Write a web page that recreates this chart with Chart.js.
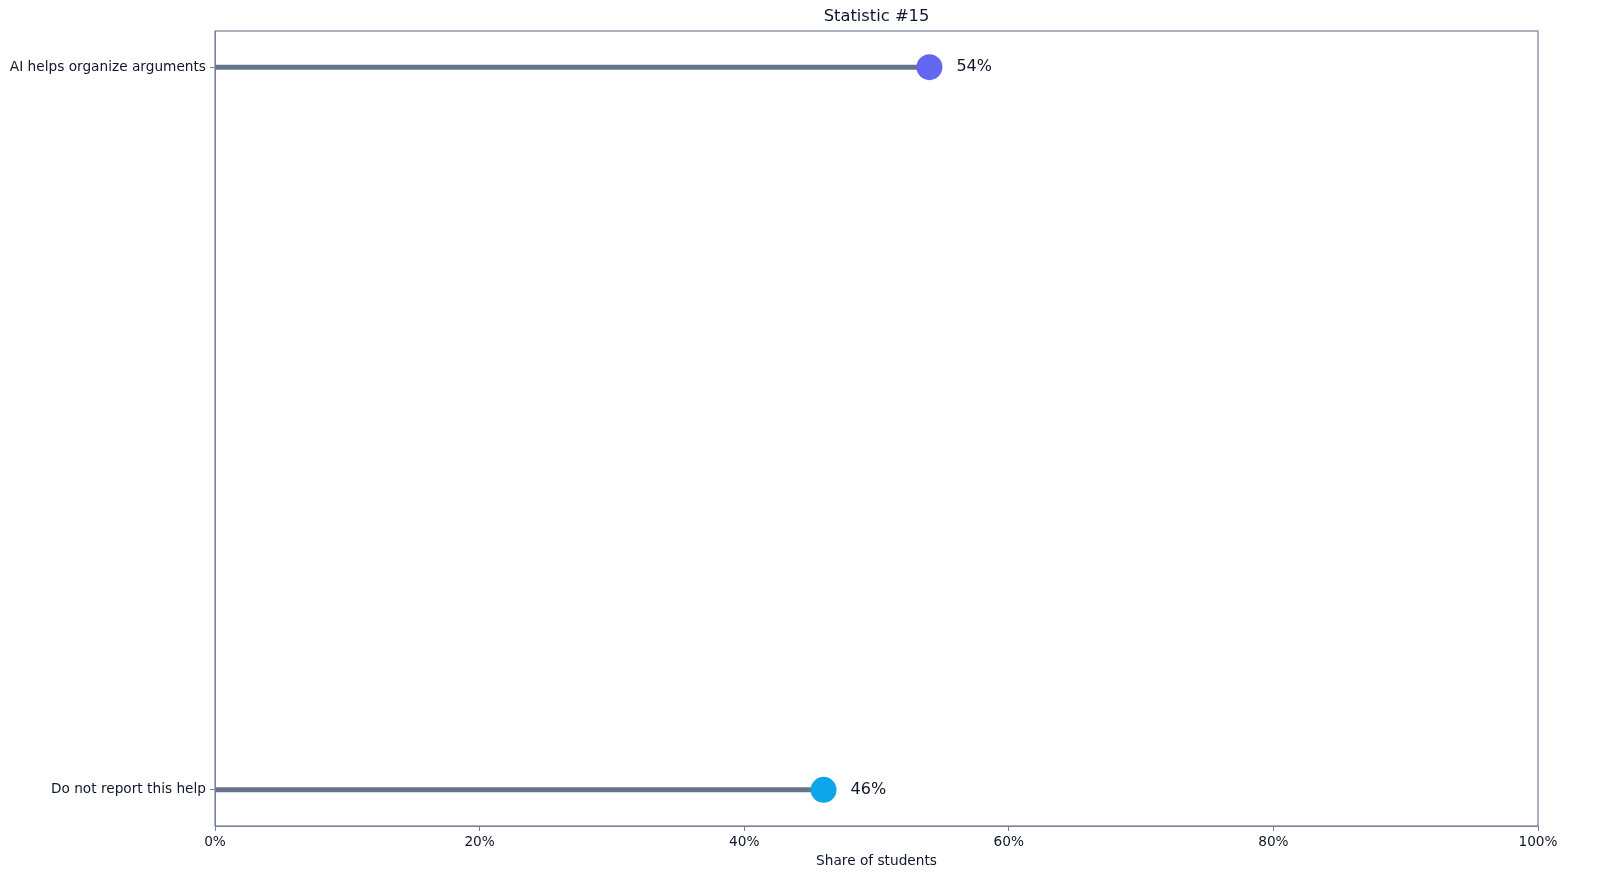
<!DOCTYPE html>
<html>
<head>
<meta charset="utf-8">
<script src="https://cdn.jsdelivr.net/npm/chart.js@4/dist/chart.umd.min.js"></script>
<style>
  html, body { margin: 0; padding: 0; background: #fff; }
  #wrap { width: 1600px; height: 896px; }
</style>
</head>
<body>
<div id="wrap"><canvas id="grafica" width="1600" height="896"></canvas></div>
<script>
const categorias = ["AI helps organize arguments", "Do not report this help"];
const valores = [54, 46];
const coloresPunto = ["#6366f1", "#0ea5e9"];
const ticksX = [0, 20, 40, 60, 80, 100];
const titulo = "Statistic #15";
const tituloX = "Share of students";

const fuente = "'DejaVu Sans', sans-serif";
const colorTexto = "#0f172a";
const colorBorde = "#75839a";
const colorTallo = "#64748b";

// one line dataset per stem, plus the dots
const datasets = valores.map((v, i) => ({
    type: "line",
    data: [{ x: 0, y: i }, { x: v, y: i }],
    borderColor: colorTallo,
    borderWidth: 5,
    pointRadius: 0,
    borderCapStyle: "butt",
    order: 2
}));
datasets.push({
    type: "scatter",
    data: valores.map((v, i) => ({ x: v, y: i })),
    pointRadius: 13,
    pointBackgroundColor: coloresPunto,
    pointBorderWidth: 0,
    order: 1
});

const extras = {
    id: "extras",
    afterDraw(chart) {
        const { ctx, chartArea: a, scales } = chart;
        ctx.save();
        ctx.strokeStyle = colorBorde;
        ctx.lineWidth = 1.2;
        ctx.strokeRect(a.left, a.top, a.right - a.left, a.bottom - a.top);

        ctx.fillStyle = colorTexto;
        ctx.textBaseline = "middle";
        ctx.font = "16px " + fuente;
        ctx.textAlign = "left";
        valores.forEach((v, i) => {
            ctx.fillText(v + "%", scales.x.getPixelForValue(v) + 27, scales.y.getPixelForValue(i));
        });

        ctx.textAlign = "center";
        ctx.font = "16.3px " + fuente;
        ctx.fillText(titulo, (a.left + a.right) / 2, 17);
        ctx.font = "13.7px " + fuente;
        ctx.fillText(tituloX, (a.left + a.right) / 2, 861);
        ctx.restore();
    }
};

new Chart(document.getElementById("grafica"), {
    data: { datasets },
    options: {
        responsive: false,
        animation: false,
        layout: { padding: { left: 0, right: 62, top: 31, bottom: 0 } },
        plugins: { legend: { display: false }, tooltip: { enabled: false } },
        scales: {
            x: {
                type: "linear",
                min: 0,
                max: 100,
                afterBuildTicks: s => { s.ticks = ticksX.map(v => ({ value: v })); },
                afterFit: s => { s.height = 70; },
                grid: { drawOnChartArea: false, drawTicks: true, tickLength: 5, tickColor: colorBorde },
                border: { display: true, color: colorBorde },
                ticks: {
                    color: colorTexto,
                    font: { family: fuente, size: 13.7 },
                    padding: 3,
                    maxRotation: 0,
                    callback: v => v + "%"
                }
            },
            y: {
                type: "linear",
                min: -0.05,
                max: 1.05,
                reverse: true,
                afterBuildTicks: s => { s.ticks = categorias.map((c, i) => ({ value: i })); },
                afterFit: s => { s.width = 215; },
                grid: { drawOnChartArea: false, drawTicks: true, tickLength: 5, tickColor: colorBorde },
                border: { display: true, color: colorBorde },
                ticks: {
                    color: colorTexto,
                    font: { family: fuente, size: 13.7 },
                    padding: 4,
                    callback: v => categorias[v]
                }
            }
        }
    },
    plugins: [extras]
});
</script>
</body>
</html>
